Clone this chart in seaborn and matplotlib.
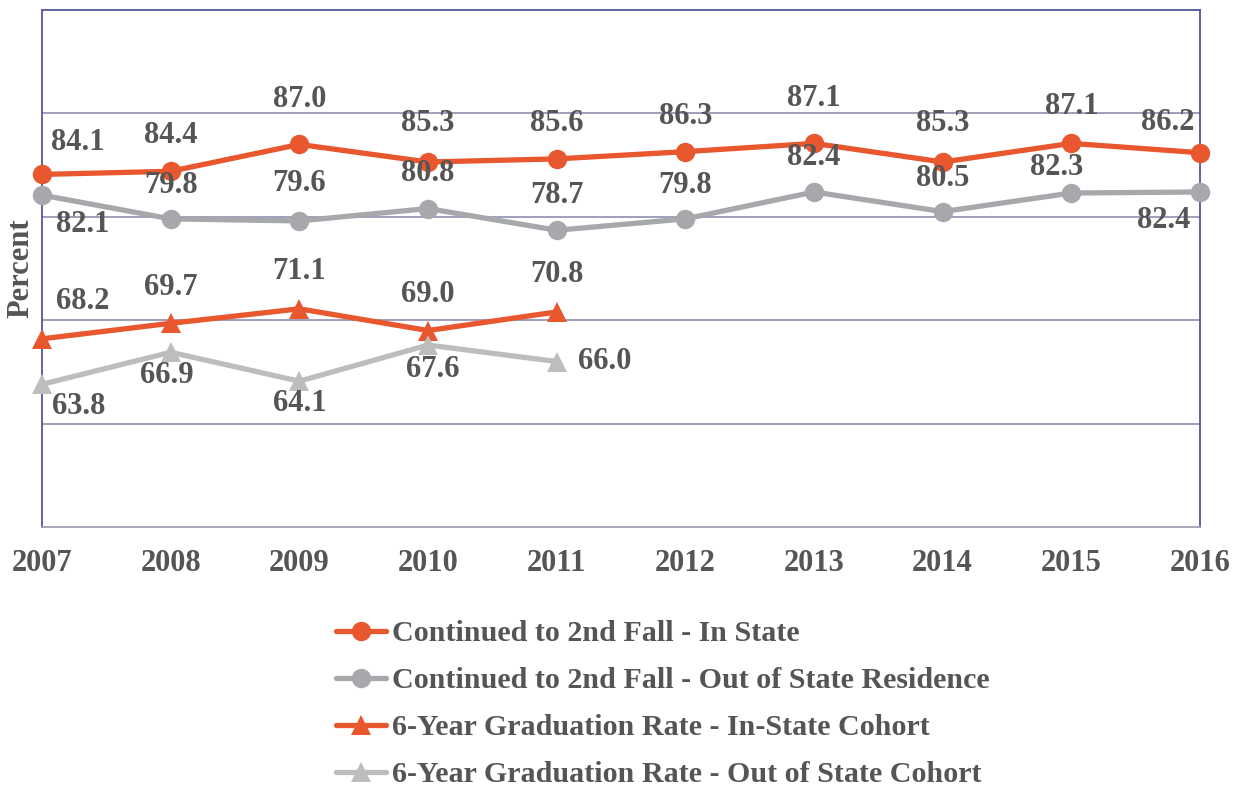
import numpy as np
import pandas as pd
import matplotlib
matplotlib.use('Agg')
import matplotlib.pyplot as plt
import seaborn as sns

years = [2007, 2008, 2009, 2010, 2011, 2012, 2013, 2014, 2015, 2016]
grad_years = [2007, 2008, 2009, 2010, 2011]
in_state = [84.1, 84.4, 87.0, 85.3, 85.6, 86.3, 87.1, 85.3, 87.1, 86.2]
out_state = [82.1, 79.8, 79.6, 80.8, 78.7, 79.8, 82.4, 80.5, 82.3, 82.4]
grad_in = [68.2, 69.7, 71.1, 69.0, 70.8]
grad_out = [63.8, 66.9, 64.1, 67.6, 66.0]
names = ['Continued to 2nd Fall - In State',
         'Continued to 2nd Fall - Out of State Residence',
         '6-Year Graduation Rate - In-State Cohort',
         '6-Year Graduation Rate - Out of State Cohort']

# label offsets in pixels (dx, dy)
off_in = [(36, 32), (0, 36), (0, 45), (0, 38), (0, 35), (0, 35), (0, 45), (0, 38), (0, 37), (-32, 30)]
off_out = [(41, -29), (0, 33), (0, 37), (0, 35), (0, 35), (0, 33), (0, 34), (0, 33), (-15, 26), (-36, -29)]
off_gin = [(41, 37), (0, 36), (0, 37), (0, 36), (0, 37)]
off_gout = [(37, -22), (-4, -23), (0, -22), (5, -24), (48, 0)]

orange = '#E8572E'
gray1 = '#A7A8AC'
gray2 = '#BDBDBD'
txt = '#555555'
frame = '#55559A'
grid = '#8F8FB0'
fs = 22

sns.set_style('white')
plt.rcParams['font.family'] = ['Liberation Serif', 'DejaVu Serif']
plt.rcParams['font.weight'] = 'bold'

fig = plt.figure(figsize=(12.42, 7.88), dpi=100)
ax = fig.add_axes([42 / 1242, 1 - 527 / 788, (1200 - 42) / 1242, (527 - 10) / 788])

series = [
    (years, in_state, orange, 'o', 14, off_in),
    (years, out_state, gray1, 'o', 14, off_out),
    (grad_years, grad_in, orange, '^', 14, off_gin),
    (grad_years, grad_out, gray2, '^', 14, off_gout),
]
for (xs, ys, col, mk, ms, offs), name in zip(series, names):
    sns.lineplot(x=xs, y=ys, ax=ax, color=col, marker=mk, markersize=ms,
                 markeredgewidth=0, linewidth=3.8, label=name, clip_on=False, zorder=3)
    for x, y, (dx, dy) in zip(xs, ys, offs):
        ax.annotate(f'{y:.1f}', (x, y), xytext=(dx, dy), textcoords='offset pixels',
                    ha='center', va='center', fontsize=fs, fontweight='bold', color=txt, zorder=4)

ax.set_xlim(2007, 2016)
ax.set_ylim(50, 100)
ax.set_xticks(years)
ax.set_xticklabels([str(y) for y in years])
ax.set_yticks([60, 70, 80, 90])
ax.set_yticklabels([])
ax.yaxis.grid(True, color=grid, linewidth=1.2)
ax.xaxis.grid(False)
ax.tick_params(axis='x', length=7, width=1.2, color='#A0A0B0', labelsize=fs, labelcolor=txt, pad=9)
ax.tick_params(axis='y', length=0)
for s in ['left', 'right', 'top']:
    ax.spines[s].set_color(frame)
    ax.spines[s].set_linewidth(1.3)
ax.spines['bottom'].set_color('#A0A0B0')
ax.spines['bottom'].set_linewidth(1.3)
ax.set_ylabel('Percent', fontsize=fs, fontweight='bold', color=txt, labelpad=1)

ax.legend_.remove()
handles, labels = ax.get_legend_handles_labels()
leg = fig.legend(handles, labels, loc='upper left', bbox_to_anchor=(336 / 1242, 1 - 620 / 788),
                 frameon=False, fontsize=21.6, handlelength=1.66, handletextpad=0.2,
                 labelspacing=0.67, borderaxespad=0, borderpad=0)
for t in leg.get_texts():
    t.set_color(txt)
    t.set_fontweight('bold')

fig.savefig('out.png', dpi=100)
